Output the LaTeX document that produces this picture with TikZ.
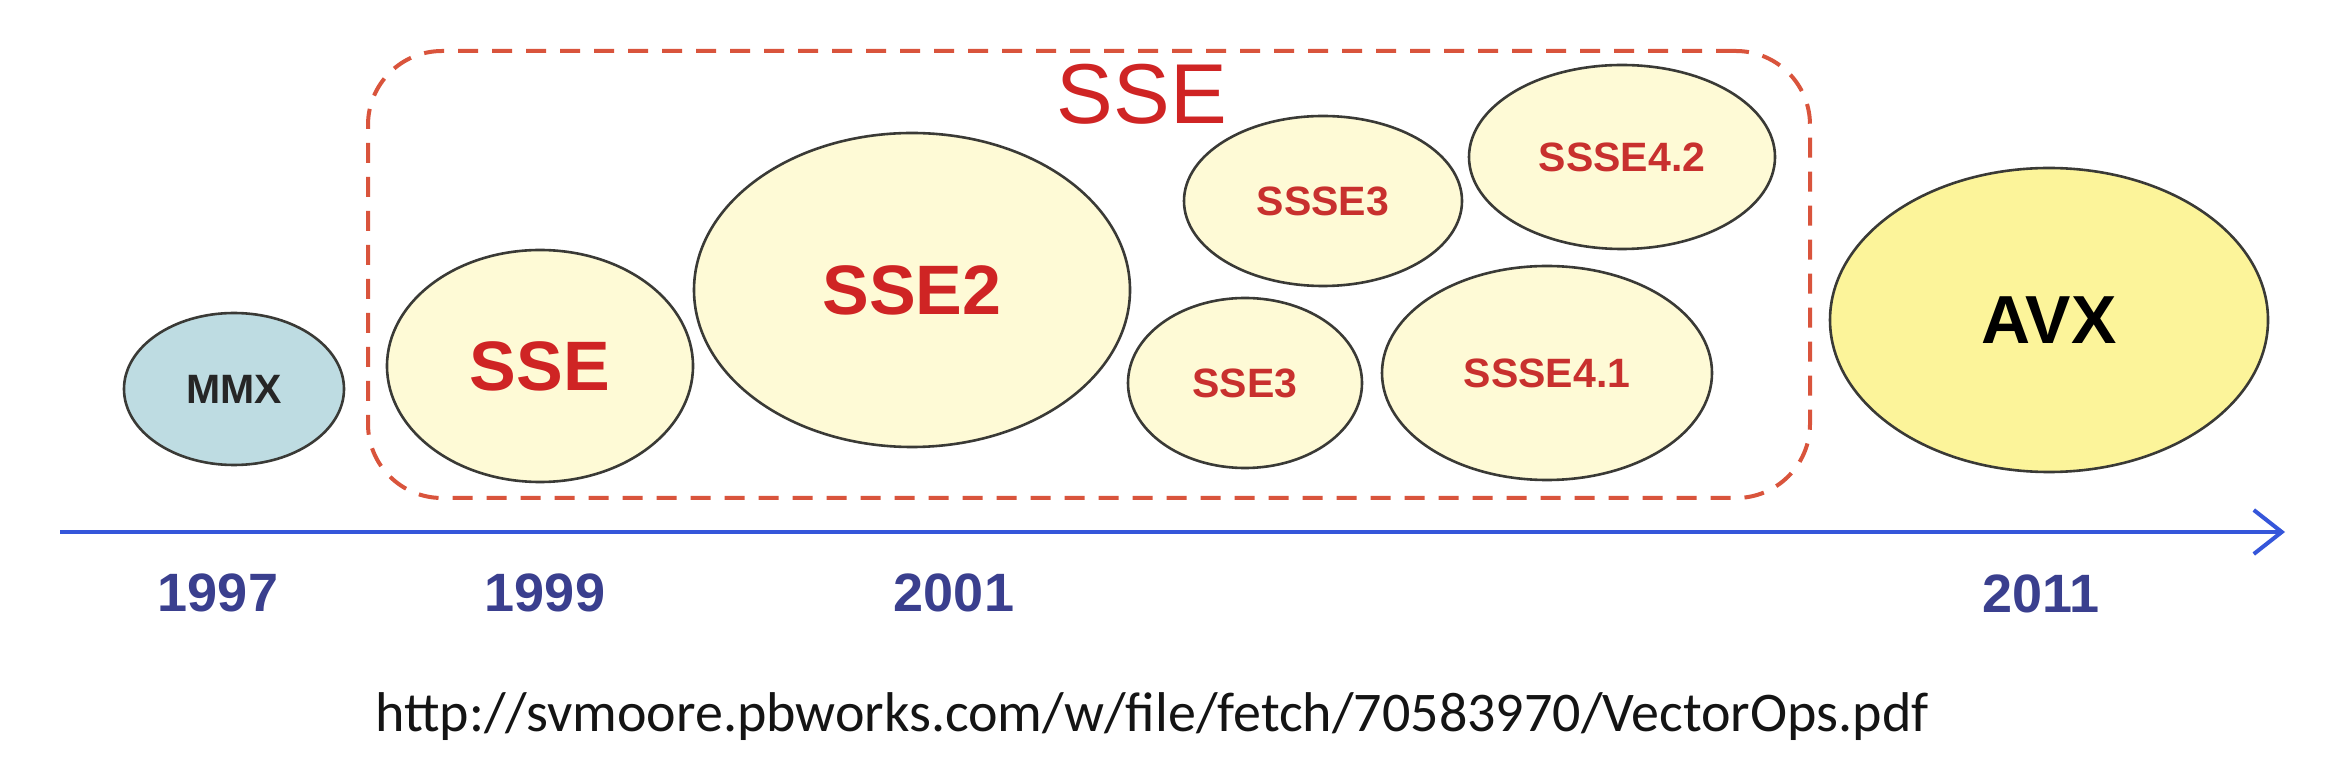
\documentclass[tikz,border=0pt]{standalone}
\usepackage{fontspec}
\setmainfont{Liberation Sans}
\newfontfamily\urlfont{Carlito}
\usetikzlibrary{shapes.geometric,arrows.meta}
\definecolor{lightcream}{HTML}{FEFAD6}
\definecolor{avxyellow}{HTML}{FCF49A}
\definecolor{mmxblue}{HTML}{BEDCE2}
\definecolor{outline}{HTML}{3A3A36}
\definecolor{ssered}{HTML}{CF2424}
\definecolor{smallred}{HTML}{C8302E}
\definecolor{dashred}{HTML}{D9543C}
\definecolor{axisblue}{HTML}{3556DA}
\definecolor{yearblue}{HTML}{3A3F8E}
\tikzset{
  blob/.style={ellipse, draw=outline, line width=1.3pt, inner sep=0pt},
  cream/.style={blob, fill=lightcream, text=ssered},
  bigtxt/.style={font=\bfseries\fontsize{35}{35}\selectfont},
  smalltxt/.style={text=smallred, font=\bfseries\fontsize{20.5}{20.5}\selectfont},
  yearlabel/.style={text=yearblue, font=\bfseries\fontsize{27}{27}\selectfont},
  groupbox/.style={draw=dashred, line width=2pt, dash pattern=on 10pt off 7pt, rounded corners=37pt, inner sep=0pt},
  timeline/.style={draw=axisblue, line width=2pt, -{Straight Barb[length=14pt, width=22pt, line width=2pt]}}
}
\begin{document}
\begin{tikzpicture}[x=0.5pt,y=-0.5pt]
\useasboundingbox (0,0) rectangle (2334,774);
\fill[white] (0,0) rectangle (2334,774);

\node[groupbox, minimum width=721pt, minimum height=223.5pt] (ssebox) at (1089,274.5) {};
\node[text=ssered, font=\fontsize{42.5}{42.5}\selectfont] (ssetitle) at (1142,94) {SSE};

\node[blob, fill=mmxblue, smalltxt, text=black!85, minimum width=110pt, minimum height=76pt] (mmx) at (234,389) {MMX};
\node[cream, bigtxt, minimum width=153pt, minimum height=116pt] (sse) at (540,366) {SSE};
\node[cream, bigtxt, minimum width=218pt, minimum height=157pt] (sse2) at (912,290) {SSE2};
\node[cream, smalltxt, minimum width=139pt, minimum height=85pt] (ssse3) at (1323,201) {SSSE3};
\node[cream, smalltxt, minimum width=117pt, minimum height=85pt] (sse3) at (1245,383) {SSE3};
\node[cream, smalltxt, minimum width=165pt, minimum height=107pt] (ssse41) at (1547,373) {SSSE4.1};
\node[cream, smalltxt, minimum width=153pt, minimum height=92pt] (ssse42) at (1622,157) {SSSE4.2};
\node[blob, fill=avxyellow, text=black, font=\bfseries\fontsize{34}{34}\selectfont, minimum width=219pt, minimum height=152pt] (avx) at (2049,320) {AVX};

\coordinate (tstart) at (60,532);
\coordinate (tend) at (2285,532);
\draw[timeline] (tstart) -- (tend);

\node[yearlabel] (y1997) at (218,593) {1997};
\node[yearlabel] (y1999) at (545,593) {1999};
\node[yearlabel] (y2001) at (954,593) {2001};
\node[yearlabel] (y2011) at (2041,594) {2011};

\node[anchor=base, text=black!92, font=\urlfont\fontsize{28}{28}\selectfont] (url) at (1152,731) {http://svmoore.pbworks.com/w/file/fetch/70583970/VectorOps.pdf};
\end{tikzpicture}
\end{document}
